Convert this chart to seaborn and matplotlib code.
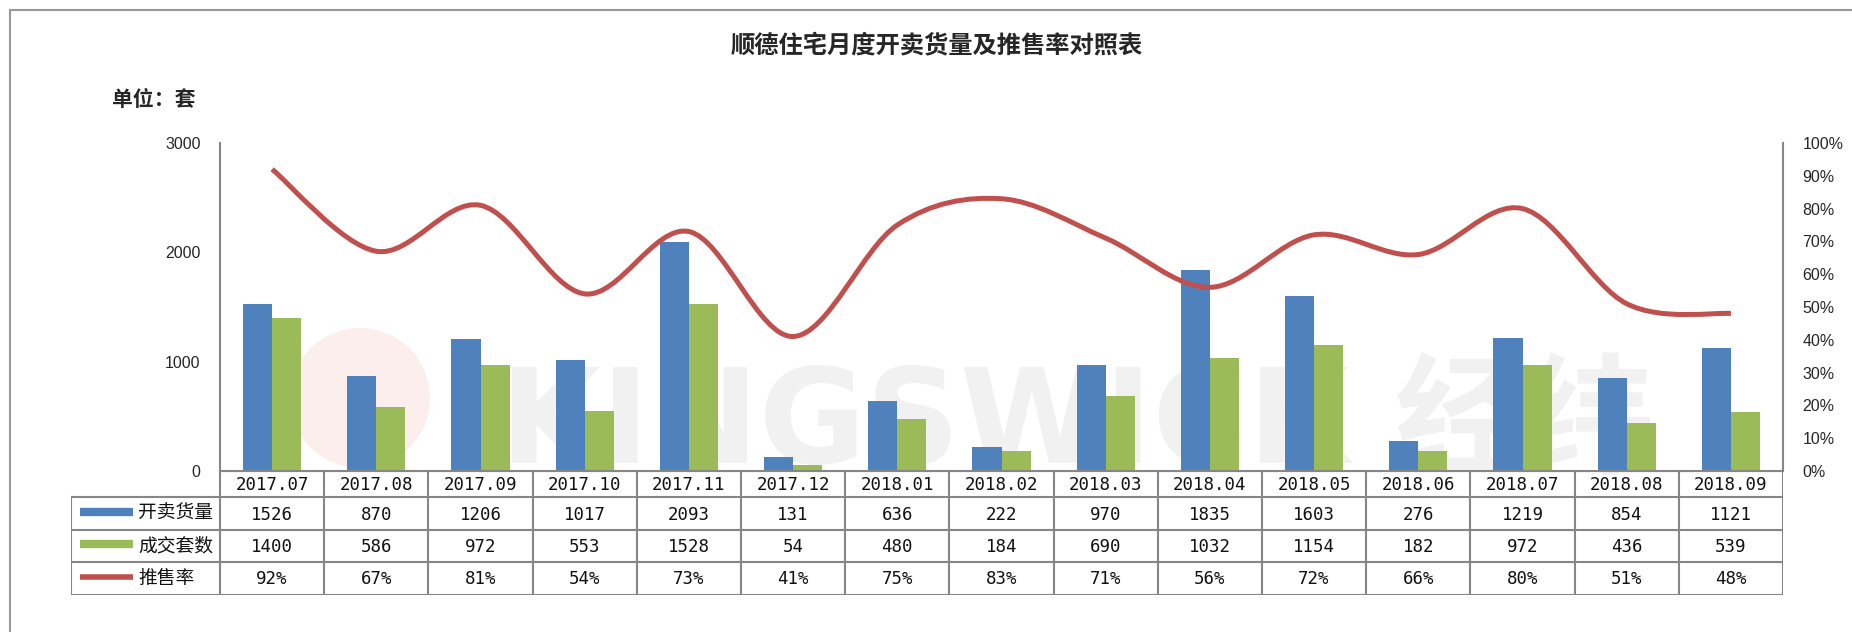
import numpy as np
import pandas as pd
import matplotlib
matplotlib.use("Agg")
import matplotlib.pyplot as plt
from matplotlib.path import Path
from matplotlib.patches import PathPatch, Ellipse
from matplotlib.ticker import PercentFormatter
import seaborn as sns

# data
months = ["2017.07", "2017.08", "2017.09", "2017.10", "2017.11", "2017.12", "2018.01",
          "2018.02", "2018.03", "2018.04", "2018.05", "2018.06", "2018.07", "2018.08", "2018.09"]
supply = [1526, 870, 1206, 1017, 2093, 131, 636, 222, 970, 1835, 1603, 276, 1219, 854, 1121]
deals = [1400, 586, 972, 553, 1528, 54, 480, 184, 690, 1032, 1154, 182, 972, 436, 539]
rate = [92, 67, 81, 54, 73, 41, 75, 83, 71, 56, 72, 66, 80, 51, 48]
series_names = ["开卖货量", "成交套数", "推售率"]

BLUE, GREEN, RED = "#4F81BD", "#9BBB59", "#C0504D"
GRID = "#868686"

sns.set_theme(style="white")
plt.rcParams["font.family"] = ["Noto Sans CJK SC", "DejaVu Sans"]

W, H = 1852, 632
fig = plt.figure(figsize=(W / 100, H / 100), dpi=100)

# pixel layout of the plot area
X_L, X_R, Y_T, Y_B = 220, 1783, 143, 471
ax = fig.add_axes([X_L / W, 1 - Y_B / H, (X_R - X_L) / W, (Y_B - Y_T) / H])
ax.set_zorder(1)
ax.patch.set_alpha(0)

df = pd.DataFrame({
    "month": months * 2,
    "value": supply + deals,
    "series": [series_names[0]] * len(months) + [series_names[1]] * len(months),
})
sns.barplot(data=df, x="month", y="value", hue="series", palette=[BLUE, GREEN],
            saturation=1, width=0.56, gap=0, linewidth=0, legend=False, ax=ax, zorder=2)
ax.set_xlim(-0.5, len(months) - 0.5)
ax.set_ylim(0, 3000)
ax.set_yticks([0, 1000, 2000, 3000])
ax.set_xticks([])
ax.set_xlabel("")
ax.set_ylabel("")
ax.tick_params(axis="y", length=0, pad=14, labelsize=11.5)
for lab in ax.get_yticklabels():
    lab.set_fontfamily(["Liberation Sans", "DejaVu Sans"])
for side in ["left", "bottom", "right"]:
    ax.spines[side].set_color(GRID)
    ax.spines[side].set_linewidth(1.5)
ax.spines["top"].set_visible(False)

# faint watermark behind the bars
fig.add_artist(Ellipse((360 / W, 1 - 398 / H), 140 / W, 140 / H, transform=fig.transFigure,
                       facecolor="#fdeeee", edgecolor="none", zorder=0.3))
fig.text(500 / W, 1 - 463 / H, "KINGSWICK 经纬", fontsize=94, fontweight="bold",
         family=["DejaVu Sans", "Noto Sans CJK SC"], color="#f1f1f1",
         va="baseline", ha="left", zorder=0.4)

# rate line, smoothed like excel
ax2 = ax.twinx()
ax2.set_ylim(0, 1)
ax2.set_yticks(np.arange(0, 1.01, 0.1))
ax2.yaxis.set_major_formatter(PercentFormatter(1.0, decimals=0))
ax2.tick_params(axis="y", length=0, pad=14, labelsize=11.5)
for lab in ax2.get_yticklabels():
    lab.set_fontfamily(["Liberation Sans", "DejaVu Sans"])
for side in ["left", "bottom", "right", "top"]:
    ax2.spines[side].set_visible(False)

xs = np.arange(len(rate), dtype=float)
ys = np.array(rate) / 100.0
verts = [(xs[0], ys[0])]
codes = [Path.MOVETO]
n = len(xs)
for i in range(n - 1):
    p0 = np.array([xs[max(i - 1, 0)], ys[max(i - 1, 0)]])
    p1 = np.array([xs[i], ys[i]])
    p2 = np.array([xs[i + 1], ys[i + 1]])
    p3 = np.array([xs[min(i + 2, n - 1)], ys[min(i + 2, n - 1)]])
    c1 = p1 + (p2 - p0) / 6.0
    c2 = p2 - (p3 - p1) / 6.0
    verts += [tuple(c1), tuple(c2), tuple(p2)]
    codes += [Path.CURVE4] * 3
ax2.add_patch(PathPatch(Path(verts, codes), facecolor="none", edgecolor=RED,
                        lw=3.6, capstyle="butt", zorder=3))

# data table under the chart
T_L, T_B = 71, 595
row_edges = [471, 497, 530, 562, 595]
tab = fig.add_axes([T_L / W, 1 - T_B / H, (X_R - T_L) / W, (T_B - Y_B) / H])
tab.set_zorder(2)
unit = (X_R - X_L) / len(months)
x0 = -0.5 - (X_L - T_L) / unit
tab.set_xlim(x0, len(months) - 0.5)
tab.set_ylim(T_B, Y_B)
tab.axis("off")

lc = dict(color=GRID, lw=1.5, solid_capstyle="projecting")
for k in range(len(months) + 1):
    tab.plot([k - 0.5, k - 0.5], [row_edges[0], row_edges[-1]], **lc)
tab.plot([x0, x0], [row_edges[1], row_edges[-1]], **lc)
tab.plot([-0.5, len(months) - 0.5], [row_edges[0]] * 2, **lc)
for y in row_edges[1:]:
    tab.plot([x0, len(months) - 0.5], [y, y], **lc)

centers = [(row_edges[i] + row_edges[i + 1]) / 2 for i in range(4)]
rows = [months, [str(v) for v in supply], [str(v) for v in deals], [f"{v}%" for v in rate]]
for r, vals in enumerate(rows):
    for i, v in enumerate(vals):
        tab.text(i, centers[r] + 1, v, ha="center", va="center", fontsize=12.5,
                 family=["DejaVu Sans Mono", "DejaVu Sans"], color="#111111")

key_x0 = x0 + (80 - T_L) / unit
key_x1 = x0 + (133 - T_L) / unit
txt_x = x0 + (138 - T_L) / unit
for r, (name, col) in enumerate(zip(series_names, [BLUE, GREEN, RED])):
    cy = centers[r + 1]
    tab.plot([key_x0, key_x1], [cy - 2, cy - 2], color=col, lw=6 if r < 2 else 4,
             solid_capstyle="butt")
    tab.text(txt_x, cy, name, ha="left", va="center", fontsize=13.5, color="#111111")

# titles and frame
fig.text(0.506, 1 - 45 / H, "顺德住宅月度开卖货量及推售率对照表", ha="center", va="center",
         fontsize=17.5, fontweight="bold")
fig.text(112 / W, 1 - 99 / H, "单位：套", ha="left", va="center", fontsize=15,
         fontweight="bold")
fig.add_artist(plt.Line2D([10 / W, 10 / W], [0, 1 - 10 / H], transform=fig.transFigure,
                          color="#999999", lw=1.5))
fig.add_artist(plt.Line2D([10 / W, 1], [1 - 10 / H, 1 - 10 / H], transform=fig.transFigure,
                          color="#999999", lw=1.5))

fig.savefig("out.png", dpi=100, facecolor="white")
